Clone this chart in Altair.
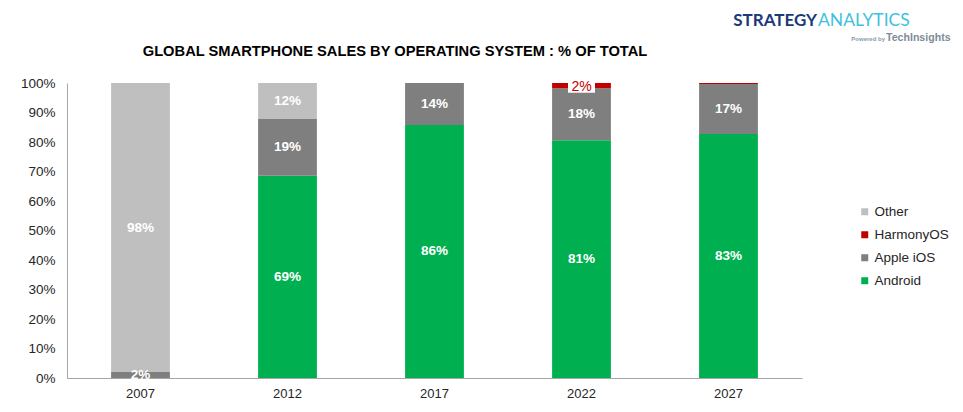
import altair as alt
import pandas as pd

years = ["2007", "2012", "2017", "2022", "2027"]
android = [0.0, 68.6, 85.8, 80.6, 82.7]
apple_ios = [2.0, 19.4, 14.2, 17.6, 17.0]
harmony = [0.0, 0.0, 0.0, 1.8, 0.3]
other = [98.0, 12.0, 0.0, 0.0, 0.0]

series_names = ["Android", "Apple iOS", "HarmonyOS", "Other"]
series_colors = ["#00B050", "#7F7F7F", "#C00000", "#BFBFBF"]
legend_order = ["Other", "HarmonyOS", "Apple iOS", "Android"]
y_ticks = [0, 10, 20, 30, 40, 50, 60, 70, 80, 90, 100]

rows = []
for i, yr in enumerate(years):
    base = 0.0
    for name, vals in zip(series_names, [android, apple_ios, harmony, other]):
        v = vals[i]
        if v > 0:
            rows.append({"Year": yr, "OS": name, "value": v, "y0": base,
                         "y1": base + v, "mid": base + v / 2,
                         "label": f"{round(v)}%"})
        base += v
df = pd.DataFrame(rows)

FONT = "Liberation Sans"
xscale = alt.Scale(domain=years, paddingInner=0.6, paddingOuter=0.3)
yscale = alt.Scale(domain=[0, 100], nice=False)
xaxis = alt.Axis(title=None, labelAngle=0, ticks=False, domainColor="#A6A6A6",
                 labelFontSize=13, labelColor="#262626", labelFont=FONT, labelPadding=9)
yaxis = alt.Axis(title=None, values=y_ticks, labelExpr="datum.value + '%'",
                 labelOverlap=False, tickCount=11,
                 ticks=False, grid=False, domainColor="#A6A6A6",
                 labelFontSize=13.5, labelColor="#262626", labelFont=FONT,
                 labelPadding=12)
X = alt.X("Year:N", scale=xscale, sort=years, axis=xaxis)

bars = alt.Chart(df).mark_bar().encode(
    x=X,
    y=alt.Y("y0:Q", scale=yscale, axis=yaxis),
    y2="y1:Q",
    color=alt.Color("OS:N", scale=alt.Scale(domain=series_names, range=series_colors),
                    legend=alt.Legend(title=None, orient="none", legendX=791, legendY=122,
                                      values=legend_order, symbolType="square",
                                      symbolSize=49, labelFontSize=13.5, labelFont=FONT,
                                      labelColor="#262626", rowPadding=8, labelOffset=3,
                                      symbolStrokeWidth=0)),
)

main_labels = alt.Chart(df).transform_filter(
    "datum.OS != 'HarmonyOS'"
).mark_text(color="white", fontWeight="bold", fontSize=13.5, font=FONT).encode(
    x=X,
    y=alt.Y("mid:Q", scale=yscale, axis=yaxis),
    text="label:N",
)

harm_df = df[(df["OS"] == "HarmonyOS") & (df["value"] >= 1)]
harm_box = alt.Chart(harm_df).mark_bar(color="white", width=27).encode(
    x=X,
    y=alt.Y("bx0:Q", scale=yscale, axis=yaxis),
    y2="bx1:Q",
).transform_calculate(bx0="datum.y1 - 3.3", bx1="datum.y1 + 1.0")
harm_label = alt.Chart(harm_df).mark_text(color="#C00000", fontSize=14, font=FONT).encode(
    x=X,
    y=alt.Y("ly:Q", scale=yscale, axis=yaxis),
    text="label:N",
).transform_calculate(ly="datum.y1 - 1.2")

title = alt.Chart(pd.DataFrame({"t": ["GLOBAL SMARTPHONE SALES BY OPERATING SYSTEM : % OF TOTAL"]})).mark_text(
    fontWeight="bold", fontSize=14.7, font=FONT, color="#000000", align="center", baseline="middle"
).encode(x=alt.value(328), y=alt.value(-31), text="t:N")

logo1 = alt.Chart(pd.DataFrame({"t": ["STRATEGY"]})).mark_text(
    fontWeight="bold", fontSize=17, font="Lato", color="#1B3A7A", align="right", baseline="alphabetic"
).encode(x=alt.value(750), y=alt.value(-57), text="t:N")
logo2 = alt.Chart(pd.DataFrame({"t": ["ANALYTICS"]})).mark_text(
    fontSize=17.5, font="Lato", color="#3EC1E0", align="left", baseline="alphabetic"
).encode(x=alt.value(751), y=alt.value(-57), text="t:N")
logo3 = alt.Chart(pd.DataFrame({"t": ["Powered by"]})).mark_text(
    fontSize=6, font=FONT, color="#8A9AA8", fontWeight="bold", align="right", baseline="alphabetic"
).encode(x=alt.value(818), y=alt.value(-42), text="t:N")
logo4 = alt.Chart(pd.DataFrame({"t": ["TechInsights"]})).mark_text(
    fontSize=10.6, font=FONT, color="#7E8C99", fontWeight="bold", align="left", baseline="alphabetic"
).encode(x=alt.value(819), y=alt.value(-42), text="t:N")

chart = alt.layer(bars, main_labels, harm_box, harm_label, title, logo1, logo2, logo3, logo4).properties(
    width=735, height=295,
    autosize=alt.AutoSizeParams(type="none"),
    padding={"left": 59, "top": 75, "right": 152, "bottom": 22},
    background="white",
).configure_view(stroke=None)

chart.save("out.html", embed_options={"renderer": "svg", "actions": False})
